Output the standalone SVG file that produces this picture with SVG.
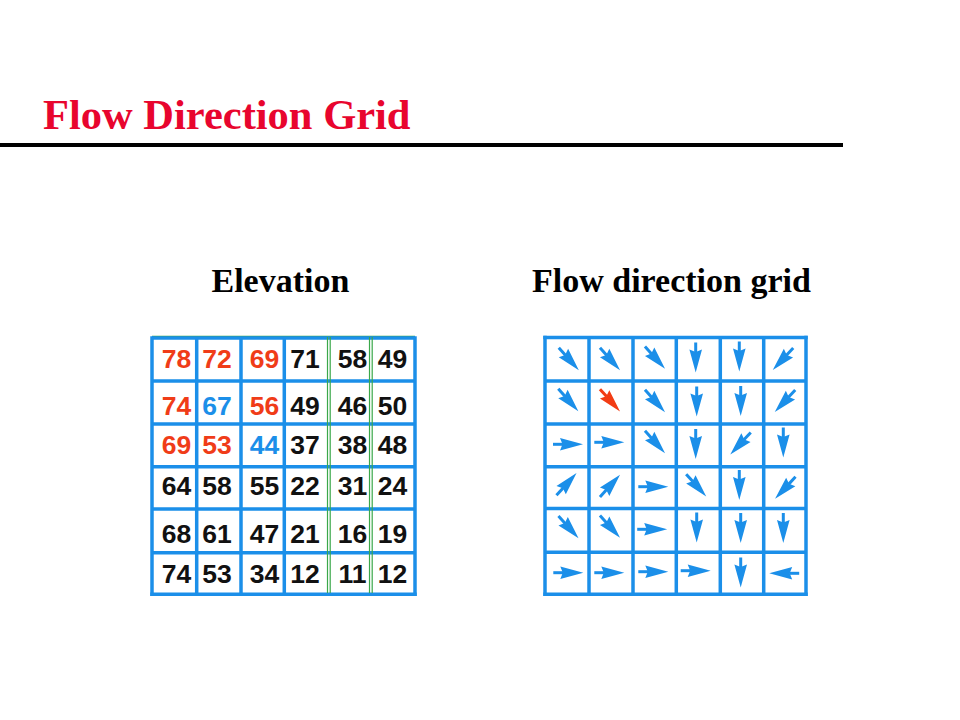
<svg xmlns="http://www.w3.org/2000/svg" xmlns:xlink="http://www.w3.org/1999/xlink" width="960" height="720" viewBox="0 0 960 720">
  <style>
    .title { font-family: "Liberation Serif", "Times New Roman", serif; font-weight: bold; font-size: 42.5px; fill: #e8052e; }
    .head { font-family: "Liberation Serif", "Times New Roman", serif; font-weight: bold; font-size: 34px; fill: #000; }
    .num { font-family: "Liberation Sans", Arial, sans-serif; font-weight: bold; font-size: 26.5px; text-anchor: middle; fill: #111; }
    .r { fill: #f03c18; }
    .bl { fill: #1b8fe9; }
    .gl { stroke: #1b8fe9; stroke-width: 3.5; fill: none; }
    .gr { stroke: #3aa84a; stroke-width: 1.2; fill: none; }
    .ab { fill: #1b8fe9; stroke: #1b8fe9; }
    .ar { fill: #f23c14; stroke: #f23c14; }
  </style>
  <defs>
    <g id="arr">
      <line x1="-15" y1="0" x2="-5" y2="0" stroke-width="3"/>
      <path d="M15,0 L-8,-6.3 L-5.5,0 L-8,6.3 Z" stroke="none"/>
    </g>
  </defs>

  <rect width="960" height="720" fill="#fff"/>

  <g id="title">
    <text class="title" x="43" y="129">Flow Direction Grid</text>
    <line x1="0" y1="145" x2="843" y2="145" stroke="#000" stroke-width="4"/>
  </g>

  <g id="heading-elevation">
    <text class="head" x="211.5" y="292">Elevation</text>
  </g>
  <g id="heading-flow">
    <text class="head" x="532" y="292">Flow direction grid</text>
  </g>

  <g id="elevation-grid">
    <line class="gr" x1="152" y1="336.3" x2="415" y2="336.3"/>
    <g class="gl">
      <line x1="152" y1="338" x2="415" y2="338"/>
      <line x1="152" y1="381" x2="415" y2="381"/>
      <line x1="152" y1="424" x2="415" y2="424"/>
      <line x1="152" y1="466.7" x2="415" y2="466.7"/>
      <line x1="152" y1="509" x2="415" y2="509"/>
      <line x1="152" y1="552.7" x2="415" y2="552.7"/>
      <line x1="150.3" y1="594.3" x2="416.7" y2="594.3"/>
      <line x1="152" y1="336.3" x2="152" y2="596"/>
      <line x1="196.7" y1="338" x2="196.7" y2="594.3"/>
      <line x1="241" y1="338" x2="241" y2="594.3"/>
      <line x1="284.3" y1="338" x2="284.3" y2="594.3"/>
      <line x1="415" y1="336.3" x2="415" y2="596"/>
    </g>
    <g class="gr">
      <line x1="327.5" y1="337" x2="327.5" y2="593"/>
      <line x1="330.2" y1="337" x2="330.2" y2="593"/>
      <line x1="369.5" y1="337" x2="369.5" y2="593"/>
      <line x1="372.2" y1="337" x2="372.2" y2="593"/>
    </g>
    <g class="num">
      <text x="176.6" y="367.5" class="num r">78</text>
      <text x="217" y="367.5" class="num r">72</text>
      <text x="264.6" y="367.5" class="num r">69</text>
      <text x="305" y="367.5">71</text>
      <text x="352.5" y="367.5">58</text>
      <text x="392.5" y="367.5">49</text>

      <text x="176.6" y="415" class="num r">74</text>
      <text x="217" y="415" class="num bl">67</text>
      <text x="264.6" y="415" class="num r">56</text>
      <text x="305" y="415">49</text>
      <text x="352.5" y="415">46</text>
      <text x="392.5" y="415">50</text>

      <text x="176.6" y="454" class="num r">69</text>
      <text x="217" y="454" class="num r">53</text>
      <text x="264.6" y="454" class="num bl">44</text>
      <text x="305" y="454">37</text>
      <text x="352.5" y="454">38</text>
      <text x="392.5" y="454">48</text>

      <text x="176.6" y="495">64</text>
      <text x="217" y="495">58</text>
      <text x="264.6" y="495">55</text>
      <text x="305" y="495">22</text>
      <text x="352.5" y="495">31</text>
      <text x="392.5" y="495">24</text>

      <text x="176.6" y="542.5">68</text>
      <text x="217" y="542.5">61</text>
      <text x="264.6" y="542.5">47</text>
      <text x="305" y="542.5">21</text>
      <text x="352.5" y="542.5">16</text>
      <text x="392.5" y="542.5">19</text>

      <text x="176.6" y="582.5">74</text>
      <text x="217" y="582.5">53</text>
      <text x="264.6" y="582.5">34</text>
      <text x="305" y="582.5">12</text>
      <text x="352.5" y="582.5">11</text>
      <text x="392.5" y="582.5">12</text>
    </g>
  </g>

  <g id="flow-grid">
    <g class="gl">
      <line x1="543.3" y1="337.5" x2="807.7" y2="337.5"/>
      <line x1="545" y1="381" x2="806" y2="381"/>
      <line x1="545" y1="424" x2="806" y2="424"/>
      <line x1="545" y1="466.7" x2="806" y2="466.7"/>
      <line x1="545" y1="508.5" x2="806" y2="508.5"/>
      <line x1="545" y1="552.3" x2="806" y2="552.3"/>
      <line x1="543.3" y1="594.3" x2="807.7" y2="594.3"/>
      <line x1="545" y1="335.8" x2="545" y2="596"/>
      <line x1="589" y1="337.5" x2="589" y2="594.3"/>
      <line x1="633" y1="337.5" x2="633" y2="594.3"/>
      <line x1="676.3" y1="337.5" x2="676.3" y2="594.3"/>
      <line x1="720.3" y1="337.5" x2="720.3" y2="594.3"/>
      <line x1="763.7" y1="337.5" x2="763.7" y2="594.3"/>
      <line x1="806" y1="335.8" x2="806" y2="596"/>
    </g>
  </g>

  <g id="flow-arrows">
    <use xlink:href="#arr" href="#arr" class="ab" transform="translate(568.8,359) rotate(48)"/>
    <use xlink:href="#arr" href="#arr" class="ab" transform="translate(610,359) rotate(48)"/>
    <use xlink:href="#arr" href="#arr" class="ab" transform="translate(655,357.7) rotate(48)"/>
    <use xlink:href="#arr" href="#arr" class="ab" transform="translate(695.7,357.5) rotate(90)"/>
    <use xlink:href="#arr" href="#arr" class="ab" transform="translate(739.3,356.5) rotate(90)"/>
    <use xlink:href="#arr" href="#arr" class="ab" transform="translate(783,359) rotate(133)"/>

    <use xlink:href="#arr" href="#arr" class="ab" transform="translate(568.3,400) rotate(48)"/>
    <use xlink:href="#arr" href="#arr" class="ar" transform="translate(610,400.3) rotate(48)"/>
    <use xlink:href="#arr" href="#arr" class="ab" transform="translate(655,401) rotate(48)"/>
    <use xlink:href="#arr" href="#arr" class="ab" transform="translate(696.7,401.5) rotate(90)"/>
    <use xlink:href="#arr" href="#arr" class="ab" transform="translate(740.7,401) rotate(90)"/>
    <use xlink:href="#arr" href="#arr" class="ab" transform="translate(785,401) rotate(133)"/>

    <use xlink:href="#arr" href="#arr" class="ab" transform="translate(568,444.3)"/>
    <use xlink:href="#arr" href="#arr" class="ab" transform="translate(609.3,442.3)"/>
    <use xlink:href="#arr" href="#arr" class="ab" transform="translate(655,442) rotate(48)"/>
    <use xlink:href="#arr" href="#arr" class="ab" transform="translate(695.7,444) rotate(90)"/>
    <use xlink:href="#arr" href="#arr" class="ab" transform="translate(740.5,443.5) rotate(133)"/>
    <use xlink:href="#arr" href="#arr" class="ab" transform="translate(783.3,442.5) rotate(90)"/>

    <use xlink:href="#arr" href="#arr" class="ab" transform="translate(566.5,484.2) rotate(-48)"/>
    <use xlink:href="#arr" href="#arr" class="ab" transform="translate(610,485.8) rotate(-48)"/>
    <use xlink:href="#arr" href="#arr" class="ab" transform="translate(653.3,486.7)"/>
    <use xlink:href="#arr" href="#arr" class="ab" transform="translate(696.2,485.3) rotate(48)"/>
    <use xlink:href="#arr" href="#arr" class="ab" transform="translate(739.3,485) rotate(90)"/>
    <use xlink:href="#arr" href="#arr" class="ab" transform="translate(785.3,487.8) rotate(133)"/>

    <use xlink:href="#arr" href="#arr" class="ab" transform="translate(568.5,527.2) rotate(48)"/>
    <use xlink:href="#arr" href="#arr" class="ab" transform="translate(610,526.7) rotate(48)"/>
    <use xlink:href="#arr" href="#arr" class="ab" transform="translate(652.2,529.3)"/>
    <use xlink:href="#arr" href="#arr" class="ab" transform="translate(696.7,527.5) rotate(90)"/>
    <use xlink:href="#arr" href="#arr" class="ab" transform="translate(740.7,528) rotate(90)"/>
    <use xlink:href="#arr" href="#arr" class="ab" transform="translate(783.3,528) rotate(90)"/>

    <use xlink:href="#arr" href="#arr" class="ab" transform="translate(568.3,572.7)"/>
    <use xlink:href="#arr" href="#arr" class="ab" transform="translate(609.3,572.7)"/>
    <use xlink:href="#arr" href="#arr" class="ab" transform="translate(653.3,571.7)"/>
    <use xlink:href="#arr" href="#arr" class="ab" transform="translate(695.7,570.7)"/>
    <use xlink:href="#arr" href="#arr" class="ab" transform="translate(740.7,572.5) rotate(90)"/>
    <use xlink:href="#arr" href="#arr" class="ab" transform="translate(784.2,573.3) rotate(180)"/>
  </g>
</svg>
